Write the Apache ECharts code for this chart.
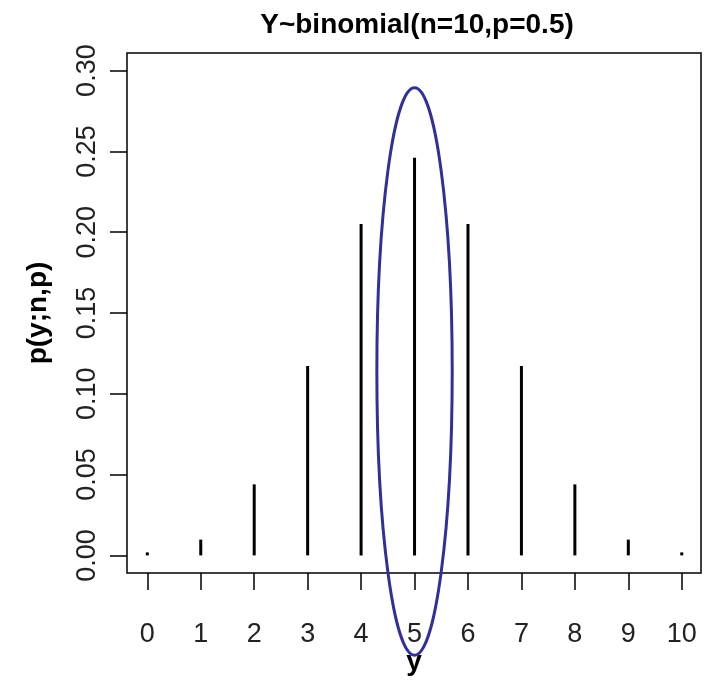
<!DOCTYPE html>
<html>
<head>
<meta charset="utf-8">
<script src="https://cdn.jsdelivr.net/npm/echarts@6/dist/echarts.min.js"></script>
<style>html,body{margin:0;padding:0;background:#fff}#c{width:707px;height:681px}</style>
</head>
<body>
<div id="c"></div>
<script>
// Data
var yValues = [0, 1, 2, 3, 4, 5, 6, 7, 8, 9, 10];
var probs = [0.000977, 0.009766, 0.043945, 0.117188, 0.205078, 0.246094, 0.205078, 0.117188, 0.043945, 0.009766, 0.000977];
var xTicks = [0, 1, 2, 3, 4, 5, 6, 7, 8, 9, 10];
var yTicks = [0, 0.05, 0.10, 0.15, 0.20, 0.25, 0.30];
// highlight ellipse around y=5: [centerX, centerY, radiusX, radiusY] in data units
var highlight = [[5, 0.1138, 0.705, 0.1756]];

var FONT = '"Liberation Sans", Arial, sans-serif';
var chart = echarts.init(document.getElementById('c'), null, {renderer: 'canvas'});
var barData = yValues.map(function (v, i) { return [v, probs[i]]; });

chart.setOption({
  animation: false,
  title: {
    text: 'Y~binomial(n=10,p=0.5)',
    left: 412, top: 6, textAlign: 'center',
    textStyle: {fontFamily: FONT, fontSize: 28, fontWeight: 'bold', color: '#000'}
  },
  grid: {left: 127, right: 6, top: 53, bottom: 104, show: true, borderColor: '#000', borderWidth: 1.5, backgroundColor: 'transparent'},
  xAxis: {
    type: 'value', min: -0.38, max: 10.36,
    name: 'y', nameLocation: 'middle', nameGap: 75, nameMoveOverlap: false,
    nameTextStyle: {fontFamily: FONT, fontSize: 28, fontWeight: 'bold', color: '#000'},
    axisLine: {show: false, onZero: false},
    splitLine: {show: false},
    axisTick: {show: true, length: 17, inside: false, customValues: xTicks, lineStyle: {color: '#000', width: 1.5}},
    axisLabel: {customValues: xTicks, margin: 48, fontFamily: FONT, fontSize: 27, color: '#222'}
  },
  yAxis: {
    type: 'value', min: -0.0109, max: 0.3109,
    name: 'p(y;n,p)', nameLocation: 'middle', nameGap: 75, nameRotate: 90, nameMoveOverlap: false,
    nameTextStyle: {fontFamily: FONT, fontSize: 28, fontWeight: 'bold', color: '#000'},
    axisLine: {show: false, onZero: false},
    splitLine: {show: false},
    axisTick: {show: true, length: 17, inside: false, customValues: yTicks, lineStyle: {color: '#000', width: 1.5}},
    axisLabel: {customValues: yTicks, rotate: 90, margin: 26, fontFamily: FONT, fontSize: 27, color: '#222',
      formatter: function (v) { return v.toFixed(2); }}
  },
  series: [
    {
      type: 'bar', data: barData, barWidth: 3, barMinHeight: 3,
      itemStyle: {color: '#000'}, z: 3
    },
    {
      type: 'custom', data: highlight, clip: false, z: 20, zlevel: 1,
      renderItem: function (params, api) {
        var c = api.coord([api.value(0), api.value(1)]);
        var s = api.size([api.value(2), api.value(3)]);
        return {
          type: 'ellipse',
          shape: {cx: c[0], cy: c[1], rx: s[0], ry: s[1]},
          style: {fill: 'none', stroke: '#30309a', lineWidth: 3}
        };
      }
    }
  ]
});
</script>
</body>
</html>
